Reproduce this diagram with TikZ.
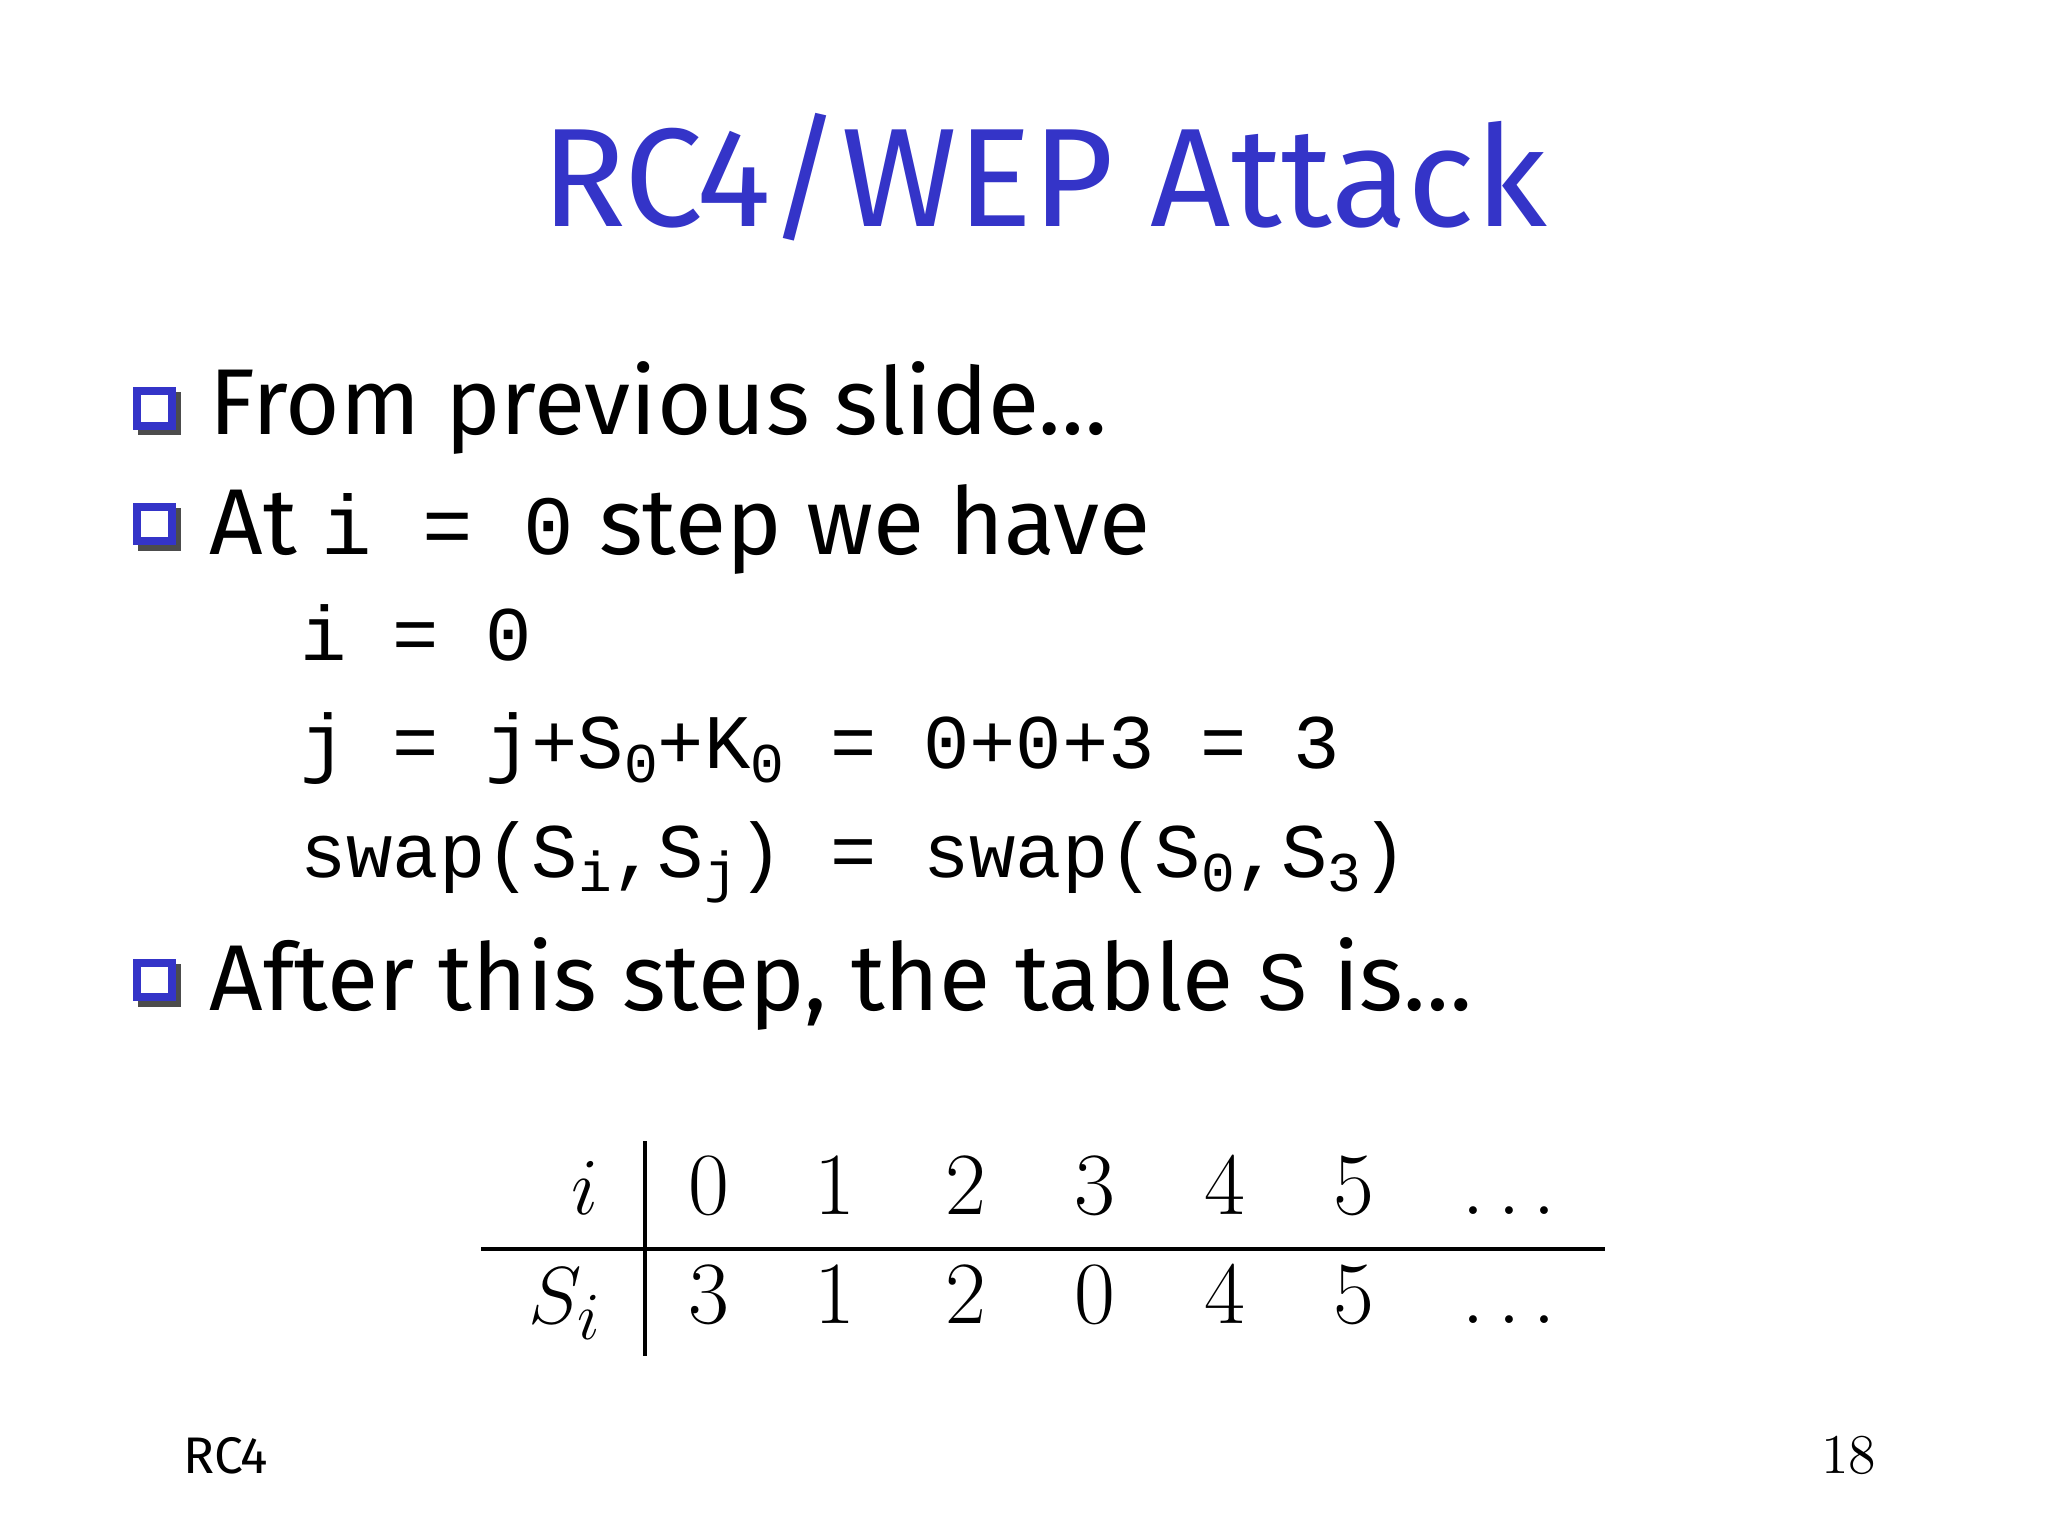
\documentclass[tikz,border=0pt]{standalone}
\usepackage{fontspec}
\setmainfont{Fira Sans}
\newfontfamily\mono{Liberation Mono}
\newfontfamily\lm{Latin Modern Roman}
\definecolor{tblue}{RGB}{52,52,200}
\begin{document}
\begin{tikzpicture}[x=0.01cm,y=-0.01cm,
  txt/.style={anchor=base west,inner sep=0pt,font=\fontsize{20}{24}\selectfont},
  code/.style={anchor=base west,inner sep=0pt,font=\mono\fontsize{16.5}{20}\selectfont},
  tab/.style={anchor=base,inner sep=0pt,font=\lm\fontsize{19}{24}\selectfont}]
\useasboundingbox (0,0) rectangle (1540,1155);
\node[inner sep=0pt,text=tblue,font=\fontsize{30}{34}\selectfont,anchor=base] (title) at (785,170) {RC4/WEP Attack};
\foreach \y/\n in {325/b1,412/b2,755/b3}{
  \fill[black!70] (104,\y-30) rectangle (136,\y+2);
  \fill[tblue] (100,\y-34) rectangle (132,\y-2);
  \fill[white] (106,\y-28) rectangle (126,\y-8);
  \coordinate (\n) at (116,\y);
}
\node[txt] (t1) at (157,327) {From previous slide\ldots};
\node[txt] (t2) at (157,417) {At {\mono\fontsize{18}{20}\selectfont i = 0} step we have};
\node[code] (c1) at (225,497) {i = 0};
\node[code] (c2) at (225,578) {j = j+S\raisebox{-0.35ex}{\fontsize{12}{12}\selectfont 0}+K\raisebox{-0.35ex}{\fontsize{12}{12}\selectfont 0} = 0+0+3 = 3};
\node[code] (c3) at (225,660) {swap(S\raisebox{-0.35ex}{\fontsize{12}{12}\selectfont i},S\raisebox{-0.35ex}{\fontsize{12}{12}\selectfont j}) = swap(S\raisebox{-0.35ex}{\fontsize{12}{12}\selectfont 0},S\raisebox{-0.35ex}{\fontsize{12}{12}\selectfont 3})};
\node[txt] (t3) at (157,760) {After this step, the table {\mono\fontsize{18}{20}\selectfont S} is\ldots};
\node[tab] (hi) at (440,913) {$i$};
\node[tab] (hs) at (425,995) {$S_i$};
\foreach \x/\a/\b [count=\k] in {533/0/3,628/1/1,726/2/2,823/3/0,921/4/4,1018/5/5}{
  \node[tab] (a\k) at (\x,913) {\a};
  \node[tab] (s\k) at (\x,995) {\b};
}
\node[tab] (ad) at (1135,913) {$\ldots$};
\node[tab] (sd) at (1135,995) {$\ldots$};
\draw[line width=0.9pt] (362,939) -- (1207,939);
\draw[line width=0.9pt] (485,858) -- (485,1020);
\node[anchor=base,inner sep=0pt,font=\fontsize{11}{12}\selectfont] (foot) at (170,1108) {RC4};
\node[anchor=base,inner sep=0pt,font=\lm\fontsize{12}{12}\selectfont] (pg) at (1390,1108) {18};
\end{tikzpicture}
\end{document}
